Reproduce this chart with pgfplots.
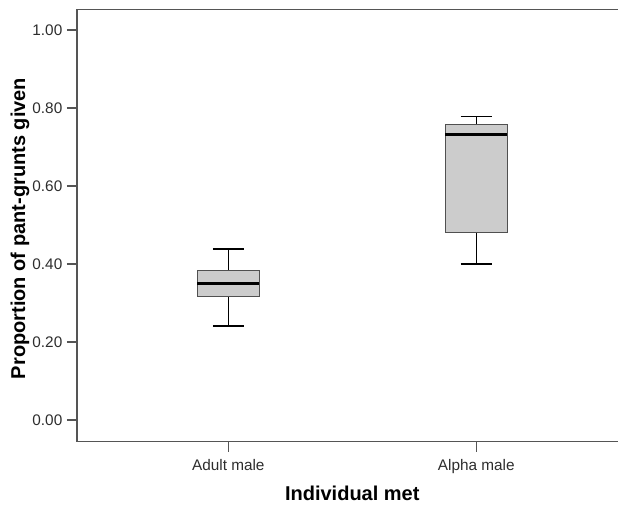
\documentclass[border=0pt]{standalone}
\usepackage{fontspec}
\setmainfont{Liberation Sans}
\usepackage{pgfplots}
\pgfplotsset{compat=1.18}
\usepgfplotslibrary{statistics}
\definecolor{axisgray}{RGB}{85,85,85}
\definecolor{boxfill}{RGB}{204,204,204}
\definecolor{boxedge}{RGB}{80,80,80}
\definecolor{ticktext}{RGB}{45,45,45}
\begin{document}
\begin{tikzpicture}
\begin{axis}[
  at={(0,0)}, anchor=south west,
  scale only axis, width=412.95pt, height=324.3pt,
  xmin=0.39, xmax=2.61, ymin=-0.0556, ymax=1.053,
  xtick={1,2}, xticklabels={Adult male, Alpha male},
  ytick={0,0.2,0.4,0.6,0.8,1.0},
  /pgf/number format/assume math mode=true,
  y tick label style={/pgf/number format/fixed,/pgf/number format/fixed zerofill,/pgf/number format/precision=2},
  tick label style={font=\fontsize{11.5}{13}\selectfont, text=ticktext},
  x tick label style={yshift=-2.25pt},
  major tick length=7.5pt, tick align=outside, tick pos=left,
  tick style={axisgray, line width=1pt},
  axis line style={axisgray, line width=1.1pt},
  every axis y label/.style={at={(axis description cs:-0.1035,0.493)}, rotate=90, anchor=center, font=\bfseries\fontsize{15}{18}\selectfont},
  every axis x label/.style={at={(axis description cs:0.5,-0.1186)}, anchor=center, font=\bfseries\fontsize{15}{18}\selectfont},
  xlabel={Individual met},
  ylabel={Proportion of pant-grunts given},
  boxplot/draw direction=y,
  boxplot/box extend=0.25,
  boxplot/whisker extend=0.125,
  boxplot/every median/.style={black, line width=2.2pt},
  boxplot/every whisker/.style={black, line width=1.1pt},
]
\addplot[boxplot prepared={draw position=1, median=0.349, upper quartile=0.383, lower quartile=0.316, upper whisker=0.438, lower whisker=0.241},
  draw=boxedge, fill=boxfill, line width=1pt, solid, mark=none] coordinates {};
\addplot[boxplot prepared={draw position=2, median=0.733, upper quartile=0.758, lower quartile=0.481, upper whisker=0.778, lower whisker=0.400},
  draw=boxedge, fill=boxfill, line width=1pt, solid, mark=none] coordinates {};
\end{axis}
\pgfresetboundingbox
\path[use as bounding box] (-57.75pt,-47.475pt) rectangle (405.75pt,331.275pt);
\end{tikzpicture}
\end{document}
